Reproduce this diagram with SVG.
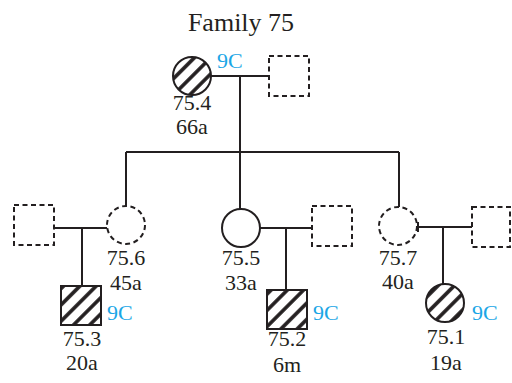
<svg xmlns="http://www.w3.org/2000/svg" width="512" height="383" viewBox="0 0 512 383">
<style>
.ln{stroke:#231f20;stroke-width:2;fill:none}
.sh{stroke:#231f20;stroke-width:2;fill:#fff}
.ds{stroke:#231f20;stroke-width:2;fill:#fff;stroke-dasharray:5 3.5}
.ht{stroke:#231f20;stroke-width:2;fill:url(#hatch)}
text{font-family:'Liberation Serif','Times New Roman',Tinos,'DejaVu Serif',serif;font-size:22px}
.t{fill:#231f20;text-anchor:middle}
.c{fill:#1ba6e6}
</style>
<defs>
<pattern id="hatch" patternUnits="userSpaceOnUse" width="11.5" height="11.5" patternTransform="rotate(-45)">
<rect width="11.5" height="11.5" fill="#fff"/>
<line x1="0" y1="5.75" x2="11.5" y2="5.75" stroke="#231f20" stroke-width="3.6"/>
</pattern>
</defs>
<rect width="512" height="383" fill="#fff"/>
<text x="241" y="31" class="t" style="font-size:26px">Family 75</text>
<g id="connectors">
<path class="ln" d="M211 76H269M240 76V152M126 152H399M126 152V206M240 152V209M399 152V207"/>
<path class="ln" d="M54 228H107M82 228V286"/>
<path class="ln" d="M260 228H312M286 228V290"/>
<path class="ln" d="M418 227H472M418 222V232M443 227V284"/>
</g>
<g id="n75_4">
<circle cx="192" cy="76" r="19" class="ht"/>
<text x="217" y="68" class="c">9C</text>
<text x="192" y="110" class="t">75.4</text>
<text x="192" y="134" class="t">66a</text>
</g>
<g id="n75_4_spouse"><rect x="269" y="56" width="40" height="40" class="ds"/></g>
<g id="n75_6">
<circle cx="126" cy="225" r="19" class="ds"/>
<text x="126" y="265" class="t">75.6</text>
<text x="126" y="290" class="t">45a</text>
</g>
<g id="n75_6_spouse"><rect x="14" y="205" width="40" height="40" class="ds"/></g>
<g id="n75_3">
<rect x="61" y="286" width="40" height="39" class="ht"/>
<text x="107" y="320" class="c">9C</text>
<text x="82" y="346" class="t">75.3</text>
<text x="82" y="370" class="t">20a</text>
</g>
<g id="n75_5">
<circle cx="241" cy="228" r="19" class="sh"/>
<text x="241" y="265" class="t">75.5</text>
<text x="241" y="290" class="t">33a</text>
</g>
<g id="n75_5_spouse"><rect x="312" y="206" width="40" height="40" class="ds"/></g>
<g id="n75_2">
<rect x="267" y="290" width="40" height="39" class="ht"/>
<text x="313" y="320" class="c">9C</text>
<text x="287" y="346" class="t">75.2</text>
<text x="287" y="372" class="t">6m</text>
</g>
<g id="n75_7">
<circle cx="398" cy="226" r="19" class="ds"/>
<text x="398" y="265" class="t">75.7</text>
<text x="398" y="289" class="t">40a</text>
</g>
<g id="n75_7_spouse"><rect x="472" y="207" width="38" height="40" class="ds"/></g>
<g id="n75_1">
<circle cx="445" cy="303" r="19" class="ht"/>
<text x="472" y="320" class="c">9C</text>
<text x="446" y="344" class="t">75.1</text>
<text x="446" y="370" class="t">19a</text>
</g>
</svg>
